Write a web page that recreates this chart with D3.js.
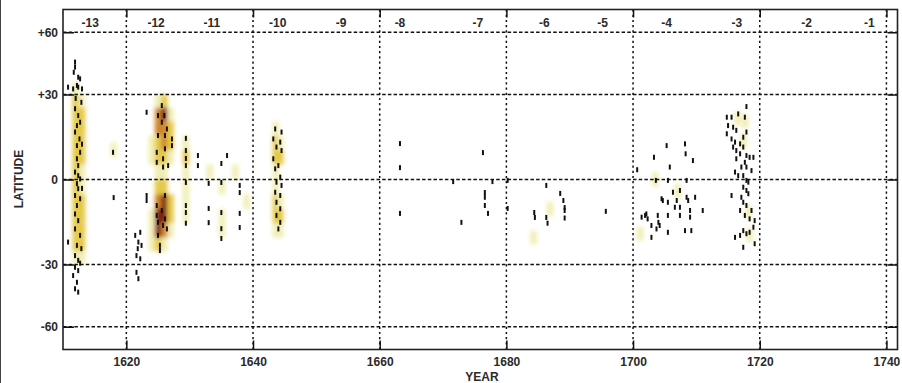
<!DOCTYPE html>
<html>
<head>
<meta charset="utf-8">
<script src="https://cdn.jsdelivr.net/npm/d3@7"></script>
<style>
  html, body { margin: 0; padding: 0; background: #fff; }
  svg { display: block; }
  text { font-family: "Liberation Sans", Arial, sans-serif; font-weight: bold; fill: #2a2a2a; }
</style>
</head>
<body>
<div id="chart"></div>
<script>
// ---------------- data ----------------
const yearTicks = [1620, 1640, 1660, 1680, 1700, 1720, 1740];
const latTicks = [-60, -30, 0, 30, 60];
const latTickLabels = ["-60", "-30", "0", "+30", "+60"];
const cycleLabels = ["-13", "-12", "-11", "-10", "-9", "-8", "-7", "-6", "-5", "-4", "-3", "-2", "-1"];
const cycleYears = [1614.3, 1624.7, 1633.5, 1643.9, 1653.9, 1663.2, 1675.5, 1686.0, 1695.2, 1705.3, 1716.4, 1727.4, 1737.3];

// sunspot marks [year, latitude]
const spots13 = [
  [1611.9,43.7],[1611.9,41.4],[1611.7,39.1],[1612.4,37.0],[1612.7,36.3],[1612.2,33.6],[1610.8,32.9],[1611.6,32.2],[1612.4,32.9],[1613.0,32.2],
  [1611.9,24.6],[1612.4,22.1],[1612.2,18.5],[1612.7,19.7],[1611.9,16.2],[1612.6,13.8],[1612.2,11.5],[1612.7,9.2],[1612.2,7.0],[1612.4,4.7],
  [1611.9,2.5],[1612.4,1.3],[1612.7,0.2],[1612.2,-1.4],[1612.4,-3.1],[1611.9,-5.4],[1612.7,-6.5],[1612.2,-8.8],[1611.9,-11.7],[1612.4,-14.0],
  [1611.9,-16.9],[1612.7,-19.2],[1610.8,-21.6],[1612.2,-22.8],[1611.9,-26.6],[1612.4,-28.4],[1611.9,-31.1],[1612.4,-32.4],[1611.6,-34.4],[1612.2,-37.2],
  [1611.9,-40.0],[1612.4,-41.5],[1612.9,27.0],[1612.0,28.5],[1613.0,12.0],[1612.9,-24.0],[1613.0,-3.0],[1612.7,-29.5],[1617.9,9.2],[1618.0,-6.1]
];
const spots12 = [
  [1623.2,23.3],[1623.2,-5.4],[1623.2,-7.1],[1625.0,22.1],[1626.0,22.1],[1625.6,19.7],[1626.4,17.3],[1625.0,15.0],[1626.1,15.0],[1627.2,13.8],
  [1627.2,11.5],[1626.1,10.4],[1624.8,9.2],[1625.8,7.0],[1624.8,5.8],[1626.6,4.7],[1625.8,4.2],[1625.6,25.8],[1624.8,-8.8],[1625.6,-10.5],
  [1624.8,-12.2],[1626.1,-13.4],[1625.0,-14.6],[1625.8,-15.7],[1626.4,-16.9],[1625.0,-19.2],[1625.3,-22.8],[1625.3,-24.7],[1626.1,-5.4],[1621.4,-19.2],
  [1622.2,-18.1],[1621.9,-21.6],[1622.4,-22.8],[1621.8,-24.0],[1621.6,-26.6],[1622.2,-27.8],[1621.6,-33.1],[1621.9,-35.7]
];
const spots11 = [
  [1629.4,14.0],[1629.4,9.8],[1629.4,7.1],[1629.4,4.7],[1629.4,-1.0],[1629.4,-8.8],[1629.4,-11.2],[1629.4,-14.9],
  [1631.3,8.1],[1631.3,4.7],[1633.0,-1.3],[1633.0,-9.8],[1633.0,-14.7],[1635.0,5.4],[1635.0,-1.0],[1635.0,-11.2],[1635.0,-16.8],[1635.0,-20.3],
  [1635.9,8.1],[1637.9,-2.0],[1637.9,-4.4],[1637.9,-11.5],[1637.9,-16.4]
];
const spots10 = [
  [1643.5,17.3],[1644.5,16.2],[1643.2,13.8],[1644.3,12.7],[1643.7,11.0],[1644.5,9.8],[1643.2,7.0],[1644.0,4.7],[1643.5,3.6],[1644.3,0.8],
  [1643.7,-0.9],[1644.5,-2.0],[1643.5,-4.3],[1644.3,-5.4],[1643.7,-7.7],[1644.3,-9.9],[1643.7,-12.2],[1644.3,-14.6],[1644.0,-16.9]
];
const spotsMid = [
  [1663.2,12.2],[1663.2,4.0],[1663.2,-11.5],[1676.3,9.1],[1671.6,-0.7],[1672.9,-14.6],[1677.8,-0.7],[1676.6,-4.4],[1676.6,-6.0],[1676.6,-8.8],
  [1677.1,-11.5],[1680.2,-0.3],[1680.2,-9.8],[1686.3,-2.0],[1688.5,-4.7],[1689.0,-7.1],[1689.2,-9.5],[1689.2,-10.5],[1689.2,-13.1],[1684.4,-11.2],
  [1684.5,-12.9],[1686.3,-12.9],[1686.5,-14.9],[1695.7,-10.8]
];
const spots4 = [
  [1700.65,3.3],[1703.3,7.5],[1705.3,11.5],[1708.2,12.1],[1708.3,8.7],[1709.45,6.4],[1705.8,4.2],[1703.6,-0.3],[1705.5,-0.3],[1708.45,-0.3],
  [1707.4,-3.7],[1706.3,-4.3],[1704.5,-6.5],[1706.9,-7.1],[1708.7,-7.1],[1709.8,-6.0],[1707.4,-9.4],[1706.6,-9.4],[1705.5,-7.7],[1708.45,-6.0],
  [1704.7,-7.1],[1702.1,-11.7],[1701.9,-12.2],[1701.35,-12.8],[1702.3,-13.4],[1703.9,-12.2],[1704.0,-14.6],[1705.5,-12.2],[1709.0,-10.5],[1709.0,-12.8],
  [1707.4,-12.2],[1711.0,-10.5],[1702.9,-15.7],[1704.2,-15.7],[1703.7,-16.9],[1705.5,-18.1],[1702.9,-19.9],[1708.2,-17.5],[1709.2,-17.5]
];
const spots3 = [
  [1714.8,21.5],[1715.55,21.5],[1716.6,22.7],[1717.65,21.5],[1717.9,25.4],[1715.0,18.5],[1714.8,15.6],[1715.8,17.9],[1716.3,16.8],[1717.4,14.4],
  [1717.9,16.2],[1715.55,13.8],[1716.1,12.7],[1716.9,12.1],[1715.8,11.0],[1717.4,11.0],[1716.3,9.8],[1716.9,8.7],[1717.9,8.1],[1718.4,7.5],
  [1719.0,7.5],[1716.3,7.0],[1717.65,5.8],[1717.1,4.2],[1717.9,4.2],[1718.7,3.0],[1716.1,2.5],[1717.4,1.3],[1716.6,1.3],[1717.9,-0.3],
  [1718.2,-0.9],[1717.4,-2.6],[1717.9,-3.7],[1718.2,-4.8],[1715.55,-5.4],[1717.1,-6.0],[1717.4,-7.7],[1717.9,-8.8],[1716.9,-10.5],[1718.7,-10.5],
  [1717.65,-12.2],[1718.4,-13.4],[1719.2,-14.0],[1719.0,-16.3],[1717.4,-17.5],[1718.4,-18.1],[1717.9,-18.6],[1716.9,-19.2],[1716.1,-19.9],[1719.2,-22.2],
  [1717.4,-23.5]
];

// density cells [year, latitude, level 1..4]
const heatCells = [
  // cycle -13
  [1612,32.5,1],[1612,27.5,2],[1612,22.5,2],[1612,17.5,2],[1612,12.5,2],[1612,7.5,2],[1612,2.5,2],[1612,-2.5,2],[1612,-7.5,2],[1612,-12.5,2],[1612,-17.5,2],[1612,-22.5,2],[1612,-27.5,1],
  [1613,27.5,1],[1613,22.5,2],[1613,17.5,2],[1613,12.5,2],[1613,7.5,2],[1613,2.5,1],[1613,-2.5,1],[1613,-7.5,2],[1613,-12.5,2],[1613,-17.5,2],[1613,-22.5,2],[1613,-27.5,1],
  [1618,10,1],
  // cycle -12 north
  [1624,12.5,1],[1624,7.5,1],
  [1625,27.5,1],[1625,22.5,3],[1625,17.5,3],[1625,12.5,2],[1625,7.5,2],[1625,2.5,1],
  [1626,27.5,2],[1626,22.5,4],[1626,17.5,3],[1626,12.5,3],[1626,7.5,2],[1626,2.5,1],
  [1627,22.5,1],[1627,17.5,2],[1627,12.5,2],[1627,7.5,1],
  // cycle -12 south
  [1624,-12.5,1],[1624,-17.5,1],[1624,-22.5,1],
  [1625,-2.5,2],[1625,-7.5,3],[1625,-12.5,4],[1625,-17.5,4],[1625,-22.5,2],
  [1626,-2.5,2],[1626,-7.5,4],[1626,-12.5,4],[1626,-17.5,3],[1626,-22.5,1],
  [1627,-7.5,2],[1627,-12.5,2],[1627,-17.5,1],
  // cycle -11
  [1629.4,12.5,1],[1629.4,7.5,2],[1629.4,2.5,1],[1629.4,-2.5,1],[1629.4,-7.5,1],[1629.4,-12.5,1],
  [1633.2,2.5,1],[1635.1,-2.5,1],[1635.1,-12.5,1],[1635.1,-17.5,1],[1637.2,2.5,1],[1639.0,-7.5,1],
  // cycle -10
  [1643.6,17.5,1],[1643.6,12.5,2],[1643.6,7.5,2],[1643.6,2.5,1],[1643.6,-2.5,1],[1643.6,-7.5,2],[1643.6,-12.5,2],[1643.6,-17.5,1],
  [1644.3,12.5,1],[1644.3,7.5,2],[1644.3,-7.5,1],[1644.3,-12.5,2],[1644.3,-17.5,1],
  // cycles -6 .. -3
  [1684.3,-20,1],[1686.9,-10,1],[1701.1,-18.6,1],[1703.5,0,1],[1707,-4,1],
  [1716.5,21,1],[1717.7,20,1],[1717.5,13,1],[1718.2,-11,1],[1718.4,-19,1]
];
const levelColors = ["#f0eeb4", "#e4c844", "#cc8226", "#7e1a0a"];

// ---------------- chart ----------------
const W = 902, H = 383;
const mLeft = 63, mRight = 897.5, mTop = 9.5, mBottom = 349.5;

const svg = d3.select("#chart").append("svg").attr("width", W).attr("height", H);
svg.append("rect").attr("width", W).attr("height", H).attr("fill", "#fff");
svg.append("line").attr("x1", 0.5).attr("x2", 0.5).attr("y1", 0).attr("y2", H).attr("stroke", "#444").attr("stroke-width", 1);

const x = d3.scaleLinear().domain([1610, 1741.75]).range([mLeft, mRight]);
const yS = d3.scaleLinear().domain([-1, 1]).range([mBottom, mTop]);
const rad = Math.PI / 180;
const y = lat => yS(Math.sin(lat * rad));
const latSin = latTicks.map(d => Math.sin(d * rad));

// blur filter for density
const defs = svg.append("defs");
defs.append("filter").attr("id", "blur").attr("filterUnits", "userSpaceOnUse")
  .attr("x", 0).attr("y", 0).attr("width", W).attr("height", H)
  .append("feGaussianBlur").attr("stdDeviation", 2.0);

svg.append("g").attr("filter", "url(#blur)")
  .selectAll("rect").data(heatCells).join("rect")
  .attr("x", d => x(d[0] - 0.5))
  .attr("width", d => x(d[0] + 0.5) - x(d[0] - 0.5))
  .attr("y", d => y(d[1] + 2.5))
  .attr("height", d => y(d[1] - 2.5) - y(d[1] + 2.5))
  .attr("fill", d => levelColors[d[2] - 1]);

// grid
const grid = svg.append("g");
grid.selectAll("line.h").data(latTicks).join("line").attr("class", "h")
  .attr("x1", mLeft).attr("x2", mRight).attr("y1", d => y(d)).attr("y2", d => y(d))
  .attr("stroke", "#111").attr("stroke-width", 1.5).attr("stroke-dasharray", "3.5,2.2");
grid.selectAll("line.v").data(yearTicks).join("line").attr("class", "v")
  .attr("x1", d => x(d)).attr("x2", d => x(d)).attr("y1", mTop).attr("y2", mBottom)
  .attr("stroke", "#111").attr("stroke-width", 1.5).attr("stroke-dasharray", "2.2,3");

// spots
const allSpots = [spots13, spots12, spots11, spots10, spotsMid, spots4, spots3];
const spotG = svg.append("g");
allSpots.forEach(arr => {
  spotG.append("g").selectAll("rect").data(arr).join("rect")
    .attr("x", d => x(d[0]) - 1).attr("y", d => y(d[1]) - 2.5)
    .attr("width", 2).attr("height", 5).attr("fill", "#111");
});

// axes
function styleAxis(g) {
  g.select(".domain").remove();
  g.selectAll(".tick line").attr("stroke", "#111").attr("stroke-width", 1.5);
  g.selectAll(".tick text").style("font-size", "12px").style("font-weight", "bold").attr("fill", "#2a2a2a");
}
svg.append("g").attr("transform", `translate(0,${mBottom})`)
  .call(d3.axisBottom(x).tickValues(yearTicks).tickSize(-9).tickPadding(8).tickFormat(d3.format("d")))
  .call(styleAxis);
svg.append("g").attr("transform", `translate(0,${mTop})`)
  .call(d3.axisTop(x).tickValues(yearTicks).tickSize(-8).tickFormat(""))
  .call(styleAxis);
svg.append("g").attr("transform", `translate(${mLeft},0)`)
  .call(d3.axisLeft(yS).tickValues(latSin).tickSize(-11).tickPadding(5).tickFormat((d, i) => latTickLabels[i]))
  .call(styleAxis);
svg.append("g").attr("transform", `translate(${mRight},0)`)
  .call(d3.axisRight(yS).tickValues(latSin).tickSize(-10).tickFormat(""))
  .call(styleAxis);

// frame
svg.append("rect").attr("x", mLeft).attr("y", mTop).attr("width", mRight - mLeft).attr("height", mBottom - mTop)
  .attr("fill", "none").attr("stroke", "#222").attr("stroke-width", 1.6);

// cycle labels
svg.append("g").selectAll("text").data(cycleLabels).join("text")
  .attr("x", (d, i) => x(cycleYears[i])).attr("y", 26.5)
  .attr("text-anchor", "middle").style("font-size", "12px").text(d => d);

// axis titles
svg.append("text").attr("x", 482).attr("y", 381).attr("text-anchor", "middle")
  .style("font-size", "12px").text("YEAR");
svg.append("text").attr("transform", "translate(23,179) rotate(-90)").attr("text-anchor", "middle")
  .style("font-size", "12px").text("LATITUDE");
</script>
</body>
</html>
